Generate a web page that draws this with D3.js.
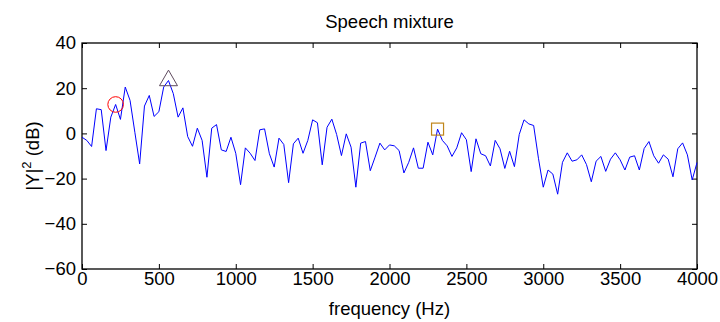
<!DOCTYPE html>
<html>
<head>
<meta charset="utf-8">
<script src="https://cdn.jsdelivr.net/npm/d3@7"></script>
<style>
  body { margin: 0; background: #fff; }
  text { font-family: "Liberation Sans", Arial, sans-serif; fill: #000; }
</style>
</head>
<body>
<div id="chart"></div>
<script>
// spectrum of the speech mixture, one value per FFT bin (dB)
const binHz = 31.25;
const powerDb = [
  -1.7, -3.1, -5.8, 10.9, 10.5, -7.6, 7.2, 12.8, 6.2, 20.5,
  14.6, 0.5, -13.5, 12.1, 16.8, 7.5, 9.6, 20.5, 23.4, 17.6,
  7.2, 11.3, -1.4, -5.7, 2.3, -3.1, -19.4, 2.3, 3.9, -7.3,
  -8.0, -1.7, -8.8, -22.7, -6.4, -8.8, -12.0, 1.6, 2.0, -9.0,
  -14.9, -2.1, -4.9, -21.8, -4.6, -2.1, -8.8, -3.1, 6.0, 4.7,
  -13.9, 2.7, 6.3, -0.5, -9.8, -0.2, -6.1, -23.8, -4.3, -3.6,
  -16.5, -10.5, -4.3, -7.3, -5.1, -5.5, -7.6, -17.5, -12.8, -6.4,
  -15.4, -15.4, -3.9, -9.5, 1.9, -3.1, -5.5, -10.2, -6.4, 0.3,
  -2.8, -16.9, -2.4, -9.0, -9.9, -14.4, -3.1, -6.8, -15.5, -7.9,
  -14.7, -0.5, 6.0, 4.2, 3.5, -11.0, -23.8, -16.2, -18.0, -26.9,
  -12.8, -8.6, -12.3, -11.7, -9.5, -13.8, -21.4, -12.3, -10.2, -16.8,
  -11.4, -8.6, -11.7, -16.2, -10.5, -9.9, -16.2, -6.7, -3.6, -9.9,
  -13.2, -9.5, -11.4, -19.2, -6.8, -4.2, -9.5, -20.6, -12.9
];
// picked peaks: circle, triangle, square
const circleHz = [218.75], circleDb = [12.8];
const triangleHz = [562.5], triangleDb = [23.4];
const squareHz = [2312.5], squareDb = [1.9];

const xTicks = [0, 500, 1000, 1500, 2000, 2500, 3000, 3500, 4000];
const yTicks = [-60, -40, -20, 0, 20, 40];

const W = 720, H = 322;
const margin = { top: 43, right: 23, bottom: 53, left: 82 };
const width = W - margin.left - margin.right,
  height = H - margin.top - margin.bottom;

const svg = d3.select("#chart").append("svg")
  .attr("width", W).attr("height", H);
const g = svg.append("g")
  .attr("transform", `translate(${margin.left},${margin.top})`);

const x = d3.scaleLinear().domain([0, 4000]).range([0, width]);
const y = d3.scaleLinear().domain([-60, 40]).range([height, 0]);

const pts = powerDb.map((v, i) => [i * binHz, v]);

// axes, matlab style: ticks inside on all four sides
const fs = "18.5px";
g.append("g").attr("transform", `translate(0,${height})`)
  .call(d3.axisBottom(x).tickValues(xTicks).tickSize(-5).tickPadding(3).tickFormat(d3.format("d")))
  .call(a => a.selectAll("text").style("font-size", fs));
g.append("g")
  .call(d3.axisLeft(y).tickValues(yTicks).tickSize(-5).tickPadding(6))
  .call(a => a.selectAll("text").style("font-size", fs));
g.append("g")
  .call(d3.axisTop(x).tickValues(xTicks).tickSize(-5).tickFormat(""));
g.append("g").attr("transform", `translate(${width},0)`)
  .call(d3.axisRight(y).tickValues(yTicks).tickSize(-5).tickFormat(""));
g.selectAll(".domain").remove();
g.selectAll(".tick line").attr("stroke", "#000");
g.selectAll(".tick text").attr("font-family", null);
g.append("rect").attr("width", width).attr("height", height)
  .attr("fill", "none").attr("stroke", "#000").attr("stroke-width", 1.3);

const line = d3.line().x(d => x(d[0])).y(d => y(d[1]));
g.append("path").datum(pts)
  .attr("d", line)
  .attr("fill", "none")
  .attr("stroke", "#0000ff")
  .attr("stroke-width", 1);

// markers
g.selectAll(".circ").data(circleHz).join("circle")
  .attr("cx", d => x(d)).attr("cy", (d, i) => y(circleDb[i]))
  .attr("r", 7.8).attr("fill", "none").attr("stroke", "#ff0000").attr("stroke-width", 1);

const side = 18, th = side * Math.sqrt(3) / 2;
g.selectAll(".tri").data(triangleHz).join("path")
  .attr("transform", (d, i) => `translate(${x(d)},${y(triangleDb[i])})`)
  .attr("d", `M0,${-th * 2 / 3}L${side / 2},${th / 3}L${-side / 2},${th / 3}Z`)
  .attr("fill", "none").attr("stroke", "#5e4a5e").attr("stroke-width", 1);

g.selectAll(".sq").data(squareHz).join("rect")
  .attr("x", d => x(d) - 6).attr("y", (d, i) => y(squareDb[i]) - 6)
  .attr("width", 12).attr("height", 12)
  .attr("fill", "none").attr("stroke", "#c0861a").attr("stroke-width", 1.2);

// labels
svg.append("text").attr("x", margin.left + width / 2).attr("y", 28)
  .attr("text-anchor", "middle").style("font-size", "18.5px").text("Speech mixture");
svg.append("text").attr("x", margin.left + width / 2).attr("y", 315)
  .attr("text-anchor", "middle").style("font-size", "18.5px").text("frequency (Hz)");
const yl = svg.append("text")
  .attr("transform", `translate(39,${margin.top + height / 2}) rotate(-90)`)
  .attr("text-anchor", "middle").style("font-size", "18.5px");
yl.append("tspan").text("|Y|");
yl.append("tspan").attr("dy", -8).style("font-size", "13px").text("2");
yl.append("tspan").attr("dy", 8).text(" (dB)");
</script>
</body>
</html>
